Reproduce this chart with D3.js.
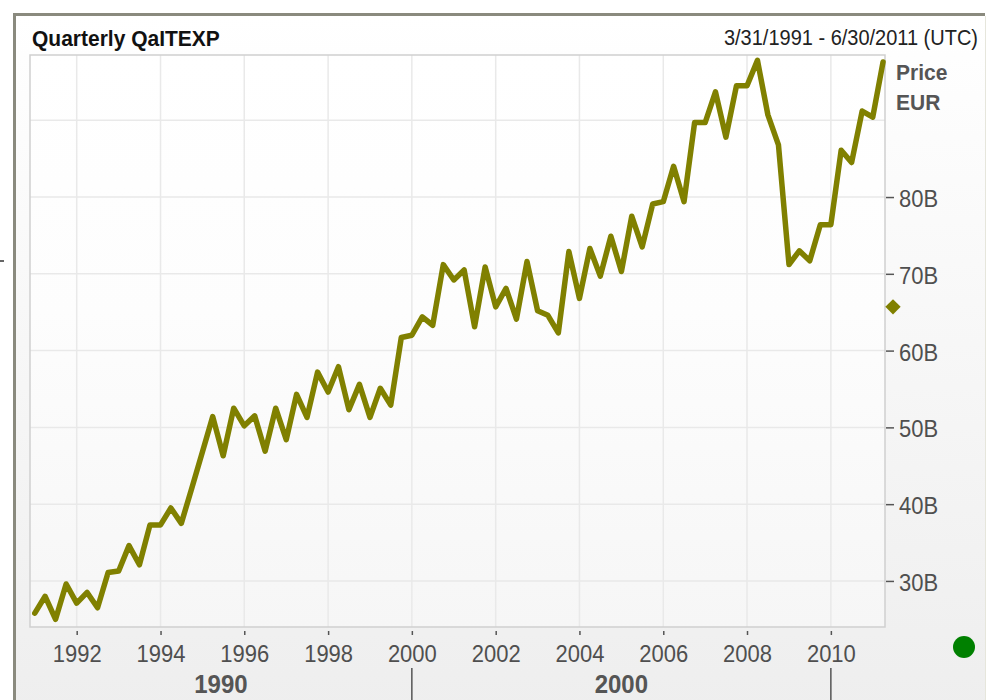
<!DOCTYPE html>
<html>
<head>
<meta charset="utf-8">
<script src="https://cdn.jsdelivr.net/npm/d3@7"></script>
<style>
  body { margin: 0; background: #fff; }
  text { font-family: "Liberation Sans", Arial, sans-serif; }
</style>
</head>
<body>
<script>
// quarterly series, first quarter 1991 Q1, values in billions EUR
var firstYear = 1991;
var values = [
  25.8, 28.0, 25.0, 29.6, 27.1, 28.5, 26.5, 31.1,
  31.3, 34.6, 32.1, 37.3, 37.3, 39.5, 37.5, 42.1,
  46.8, 51.4, 46.3, 52.5, 50.2, 51.5, 46.9, 52.5,
  48.4, 54.3, 51.3, 57.2, 54.6, 57.9, 52.3, 55.6,
  51.3, 55.1, 52.9, 61.7, 62.0, 64.4, 63.3, 71.2,
  69.2, 70.5, 63.1, 70.9, 65.7, 68.1, 64.1, 71.6,
  65.2, 64.6, 62.3, 72.9, 66.8, 73.3, 69.7, 74.9,
  70.3, 77.5, 73.5, 79.1, 79.4, 84.0, 79.4, 89.7,
  89.7, 93.7, 87.8, 94.5, 94.5, 97.8, 90.7, 86.8,
  71.2, 73.0, 71.7, 76.4, 76.4, 86.1, 84.5, 91.2,
  90.4, 97.6
];
var yTicks = [30, 40, 50, 60, 70, 80];
var yGrid = [30, 40, 50, 60, 70, 80, 90];
var xTickYears = [1992, 1994, 1996, 1998, 2000, 2002, 2004, 2006, 2008, 2010];
var decades = [1990, 2000];
var decadeBreaks = [2000, 2010];
var title = "Quarterly QaITEXP";
var dateRange = "3/31/1991 - 6/30/2011 (UTC)";
var legendLines = ["Price", "EUR"];
var markerValue = 65.7;

var data = values.map(function(v, i) {
  return { date: new Date(Date.UTC(firstYear + Math.floor(i / 4), (i % 4) * 3, 1)), value: v };
});

var W = 994, H = 700;
var plot = { left: 30, top: 55, right: 885, bottom: 627 };

var svg = d3.select("body").append("svg").attr("width", W).attr("height", H);
var defs = svg.append("defs");

var g1 = defs.append("linearGradient").attr("id", "frameBg").attr("x1", 0).attr("y1", 0).attr("x2", 0).attr("y2", 1);
g1.append("stop").attr("offset", "0%").attr("stop-color", "#ffffff");
g1.append("stop").attr("offset", "100%").attr("stop-color", "#eeeeee");
var g2 = defs.append("linearGradient").attr("id", "plotBg").attr("x1", 0).attr("y1", 0).attr("x2", 0).attr("y2", 1);
g2.append("stop").attr("offset", "0%").attr("stop-color", "#ffffff");
g2.append("stop").attr("offset", "45%").attr("stop-color", "#fdfdfd");
g2.append("stop").attr("offset", "100%").attr("stop-color", "#f6f6f6");

// outer frame
svg.append("rect").attr("x", 15).attr("y", 15).attr("width", 970).attr("height", 700).attr("fill", "url(#frameBg)");
svg.append("path").attr("d", "M14.5,700 V14.5 H985")
  .attr("fill", "none").attr("stroke", "#8a8a7e").attr("stroke-width", 3);
svg.append("line").attr("x1", 985.5).attr("x2", 985.5).attr("y1", 16).attr("y2", 700)
  .attr("stroke", "#e6e6dc").attr("stroke-width", 1);
svg.append("line").attr("x1", 0).attr("x2", 4).attr("y1", 261).attr("y2", 261)
  .attr("stroke", "#333").attr("stroke-width", 1.5);

var x = d3.scaleUtc()
  .domain([new Date(Date.UTC(1990, 10, 20)), new Date(Date.UTC(2011, 3, 18))])
  .range([plot.left, plot.right]);
var y = d3.scaleLinear().domain([24.0, 98.5]).range([plot.bottom, plot.top]);

svg.append("rect").attr("x", plot.left).attr("y", plot.top)
  .attr("width", plot.right - plot.left).attr("height", plot.bottom - plot.top)
  .attr("fill", "url(#plotBg)");

// grid
svg.append("g").selectAll("line").data(yGrid).enter().append("line")
  .attr("x1", plot.left).attr("x2", plot.right)
  .attr("y1", function(d) { return y(d); }).attr("y2", function(d) { return y(d); })
  .attr("stroke", "#e9e9e9").attr("stroke-width", 1.5);
svg.append("g").selectAll("line").data(xTickYears).enter().append("line")
  .attr("x1", function(d) { return x(new Date(Date.UTC(d, 0, 1))); })
  .attr("x2", function(d) { return x(new Date(Date.UTC(d, 0, 1))); })
  .attr("y1", plot.top).attr("y2", plot.bottom)
  .attr("stroke", "#e9e9e9").attr("stroke-width", 1.5);

svg.append("rect").attr("x", plot.left).attr("y", plot.top)
  .attr("width", plot.right - plot.left).attr("height", plot.bottom - plot.top)
  .attr("fill", "none").attr("stroke", "#cfcfcf").attr("stroke-width", 1.5);

// line
var line = d3.line()
  .x(function(d) { return x(d.date); })
  .y(function(d) { return y(d.value); });
svg.append("path").datum(data)
  .attr("fill", "none").attr("stroke", "#808000").attr("stroke-width", 5.5)
  .attr("stroke-linejoin", "round").attr("stroke-linecap", "round")
  .attr("d", line);

// x axis
var xAxis = d3.axisBottom(x)
  .tickValues(xTickYears.map(function(d) { return new Date(Date.UTC(d, 0, 1)); }))
  .tickFormat(d3.utcFormat("%Y"))
  .tickSize(4);
var gx = svg.append("g").attr("transform", "translate(0,631)").call(xAxis);
gx.select(".domain").remove();
gx.selectAll(".tick line").attr("stroke", "#555").attr("stroke-width", 1.5);
gx.selectAll(".tick text")
  .attr("y", 0).attr("dy", 0)
  .attr("transform", "translate(0,31) scale(1,1.12)")
  .attr("fill", "#4f4f4f").style("font-size", "22px").style("font-family", "Liberation Sans, Arial, sans-serif");

// decade row
svg.append("g").selectAll("line").data(decadeBreaks).enter().append("line")
  .attr("x1", function(d) { return x(new Date(Date.UTC(d, 0, 1))); })
  .attr("x2", function(d) { return x(new Date(Date.UTC(d, 0, 1))); })
  .attr("y1", 668).attr("y2", 700)
  .attr("stroke", "#555").attr("stroke-width", 1.5);
svg.append("g").selectAll("text").data(decades).enter().append("text")
  .attr("transform", function(d, i) {
    var a = i === 0 ? plot.left : x(new Date(Date.UTC(decadeBreaks[i - 1], 0, 1)));
    var b = x(new Date(Date.UTC(decadeBreaks[i], 0, 1)));
    return "translate(" + ((a + b) / 2) + ",693) scale(1,1.08)";
  })
  .attr("text-anchor", "middle").attr("fill", "#555")
  .style("font-size", "24px").style("font-weight", "bold")
  .text(function(d) { return d; });

// y axis
var yAxis = d3.axisRight(y).tickValues(yTicks)
  .tickFormat(function(d) { return d + "B"; })
  .tickSize(8);
var gy = svg.append("g").attr("transform", "translate(886,0)").call(yAxis);
gy.select(".domain").remove();
gy.selectAll(".tick line").attr("stroke", "#555").attr("stroke-width", 1.5);
gy.selectAll(".tick text")
  .attr("x", 0).attr("dy", 0)
  .attr("transform", "translate(13,9.5) scale(1,1.12)")
  .attr("fill", "#4f4f4f").style("font-size", "22px").style("font-family", "Liberation Sans, Arial, sans-serif");

// titles
svg.append("text").attr("transform", "translate(32,46) scale(1,1.02)")
  .attr("fill", "#111").style("font-size", "21px").style("font-weight", "bold")
  .text(title);
svg.append("text").attr("transform", "translate(978,45) scale(1,1.12)")
  .attr("text-anchor", "end").attr("fill", "#222").style("font-size", "20px")
  .text(dateRange);

// legend
svg.append("g").selectAll("text").data(legendLines).enter().append("text")
  .attr("transform", function(d, i) { return "translate(896," + (80 + i * 30) + ") scale(1,1.05)"; })
  .attr("fill", "#555").style("font-size", "21px").style("font-weight", "bold")
  .text(function(d) { return d; });

// last-value marker and status dot
svg.append("path")
  .attr("d", d3.symbol().type(d3.symbolDiamond2).size(150)())
  .attr("transform", "translate(893," + y(markerValue) + ")")
  .attr("fill", "#808000");
svg.append("circle").attr("cx", 964).attr("cy", 647).attr("r", 11).attr("fill", "#008000");
</script>
</body>
</html>
